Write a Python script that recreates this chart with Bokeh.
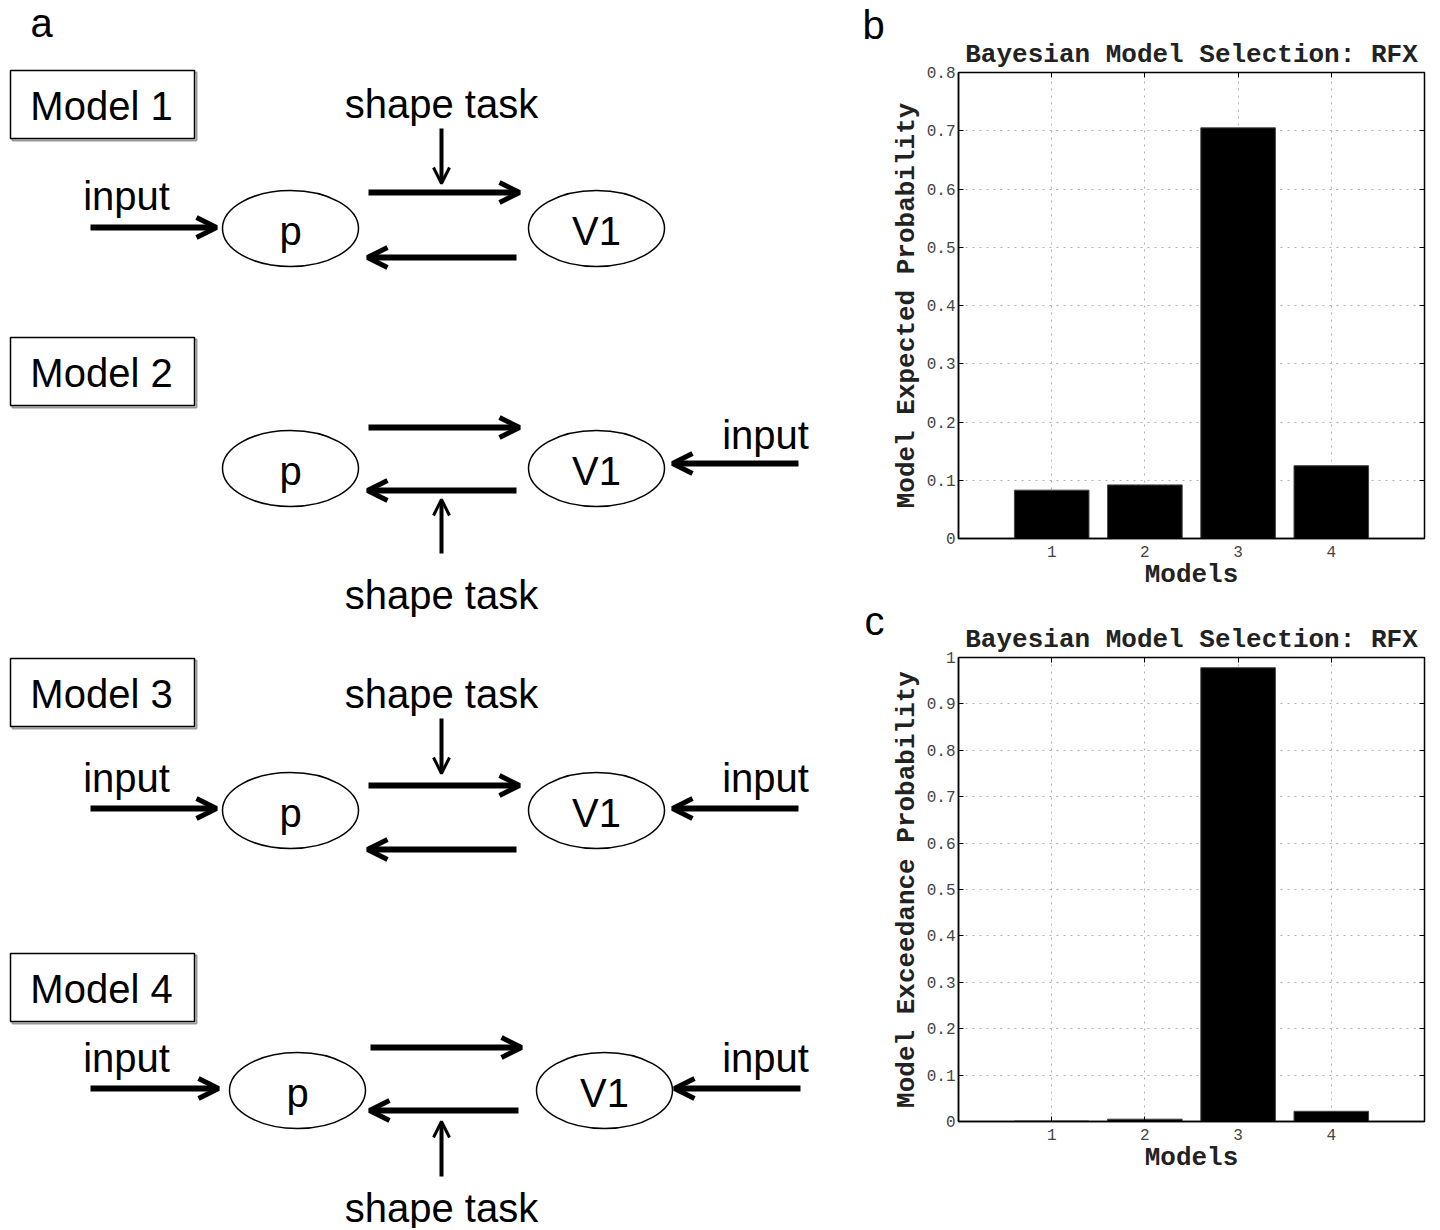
from bokeh.plotting import figure
from bokeh.models import Range1d, Arrow, OpenHead, LinearAxis, FixedTicker, Title, ColumnDataSource
from bokeh.layouts import row, column
from bokeh.core.properties import value
from bokeh.embed import file_html
from bokeh.resources import INLINE

# ---------------- data ----------------
models = [1, 2, 3, 4]
model_tick_labels = ["1", "2", "3", "4"]
expected_prob = [0.083, 0.092, 0.705, 0.125]
exceedance_prob = [0.001, 0.005, 0.978, 0.022]

b_yticks = [0, 0.1, 0.2, 0.3, 0.4, 0.5, 0.6, 0.7, 0.8]
b_ytick_labels = ["0", "0.1", "0.2", "0.3", "0.4", "0.5", "0.6", "0.7", "0.8"]
c_yticks = [0, 0.1, 0.2, 0.3, 0.4, 0.5, 0.6, 0.7, 0.8, 0.9, 1]
c_ytick_labels = ["0", "0.1", "0.2", "0.3", "0.4", "0.5", "0.6", "0.7", "0.8", "0.9", "1"]

model_names = ["Model 1", "Model 2", "Model 3", "Model 4"]
node_names = ["p", "V1"]
input_label = "input"
task_label = "shape task"
panel_letters = ["a", "b", "c"]

bar_title = "Bayesian Model Selection: RFX"
b_ylabel = "Model Expected Probability"
c_ylabel = "Model Exceedance Probability"
xlabel = "Models"

# ---------------- diagram (panel a) ----------------
D_W, D_H = 886, 1228
SANS = value("Liberation Sans")
MONO = "Liberation Mono"

d = figure(width=D_W, height=D_H, x_range=Range1d(0, D_W), y_range=Range1d(D_H, 0),
           output_backend="svg", toolbar_location=None, min_border=0,
           x_axis_location=None, y_axis_location=None)
d.grid.visible = False
d.outline_line_color = None

# layout of each model row (positions only)
rows_cfg = [
    dict(box_y=104, ell_y=228, px=290, vx=596, top_y=192, bot_y=257,
         task=(103, 128, 183), in_left=(195, 227), in_right=None, shift=0),
    dict(box_y=371, ell_y=468, px=290, vx=596, top_y=427, bot_y=490,
         task=(594, 553, 499), in_left=None, in_right=(434, 463), shift=0),
    dict(box_y=692, ell_y=810, px=290, vx=596, top_y=785, bot_y=849,
         task=(693, 718, 773), in_left=(777, 808), in_right=(777, 808), shift=0),
    dict(box_y=987, ell_y=1090, px=297, vx=604, top_y=1047, bot_y=1110,
         task=(1207, 1176, 1121), in_left=(1057, 1088), in_right=(1057, 1088), shift=2),
]

def arrow(x0, y0, x1, y1, lw=6, size=20):
    d.add_layout(Arrow(end=OpenHead(size=size, line_width=lw - 1, line_color="black"),
                       x_start=x0, y_start=y0, x_end=x1, y_end=y1,
                       line_width=lw, line_color="black"))

texts_x, texts_y, texts = [], [], []
for name, cfg in zip(model_names, rows_cfg):
    # model box with soft shadow
    d.rect(x=104, y=cfg["box_y"] + 2, width=184, height=68, fill_color=None,
           line_color="#9a9a9a", line_width=2)
    d.rect(x=102, y=cfg["box_y"], width=184, height=68, fill_color="white",
           line_color="black", line_width=1.5)
    texts_x.append(101); texts_y.append(cfg["box_y"] + 1); texts.append(name)
    # nodes
    d.ellipse(x=[cfg["px"], cfg["vx"]], y=[cfg["ell_y"]] * 2, width=136, height=76,
              fill_color="white", line_color="black", line_width=1.5)
    texts_x += [cfg["px"], cfg["vx"]]; texts_y += [cfg["ell_y"] + 2] * 2; texts += node_names
    s = cfg["shift"]
    # forward / backward connections
    arrow(368 + s, cfg["top_y"], 519 + s, cfg["top_y"])
    arrow(516 + s, cfg["bot_y"], 367 + s, cfg["bot_y"])
    # shape task modulation
    ty, a0, a1 = cfg["task"]
    arrow(441, a0, 441, a1, lw=4, size=16)
    texts_x.append(441); texts_y.append(ty); texts.append(task_label)
    # inputs
    if cfg["in_left"]:
        ty, ay = cfg["in_left"]
        texts_x.append(126); texts_y.append(ty); texts.append(input_label)
        arrow(90, ay, 216 + s, ay)
    if cfg["in_right"]:
        ty, ay = cfg["in_right"]
        texts_x.append(765); texts_y.append(ty); texts.append(input_label)
        arrow(798 + s, ay, 672 + s, ay)

d.text(x=texts_x, y=texts_y, text=texts, text_font=SANS, text_font_size="40px",
       text_align="center", text_baseline="middle", text_color="black")
# panel letters (b and c sit just left of the bar panels)
d.text(x=[41, 873, 874], y=[22, 24, 620], text=panel_letters, text_font=SANS,
       text_font_size="40px", text_align="center", text_baseline="middle", text_color="black")


# ---------------- bar panels (b, c) ----------------
def bar_panel(vals, ylabel, yticks, ytick_labels, ymax, width, height,
              b_left, b_right, b_top, b_bottom):
    p = figure(width=width, height=height, x_range=Range1d(0, 5), y_range=Range1d(0, ymax),
               output_backend="svg", toolbar_location=None,
               min_border_left=b_left, min_border_right=b_right,
               min_border_top=b_top, min_border_bottom=b_bottom)
    src = ColumnDataSource(dict(x=models, top=vals))
    p.vbar(x="x", top="top", width=0.8, source=src, fill_color="black", line_color="#444444",
           line_width=1)
    p.outline_line_color = "black"
    p.outline_line_width = 1.5

    p.xaxis.ticker = FixedTicker(ticks=models)
    p.xaxis.major_label_overrides = {m: l for m, l in zip(models, model_tick_labels)}
    p.yaxis.ticker = FixedTicker(ticks=yticks)
    p.yaxis.major_label_overrides = {t: l for t, l in zip(yticks, ytick_labels)}
    p.xaxis.axis_label = xlabel
    p.yaxis.axis_label = ylabel
    for ax in (p.xaxis, p.yaxis):
        ax.axis_label_text_font = MONO
        ax.axis_label_text_font_size = "26px"
        ax.axis_label_text_font_style = "bold"
        ax.axis_label_text_color = "#222222"
        ax.major_label_text_font = MONO
        ax.major_label_text_font_size = "16px"
        ax.major_label_text_color = "#444444"
        ax.major_tick_in = 5
        ax.major_tick_out = 0
        ax.minor_tick_line_color = None
        ax.axis_line_color = "black"
        ax.axis_line_width = 1.5
        ax.major_label_standoff = 3
        ax.axis_label_standoff = 2
    p.xaxis.major_label_standoff = 7
    p.xaxis.axis_label_standoff = 0

    for ax, loc, ticks in ((LinearAxis(), "right", yticks), (LinearAxis(), "above", models)):
        ax.ticker = FixedTicker(ticks=ticks)
        ax.major_label_overrides = {t: "" for t in ticks}
        ax.major_label_standoff = 0
        ax.major_tick_in = 5
        ax.major_tick_out = 0
        ax.minor_tick_line_color = None
        ax.axis_line_color = "black"
        p.add_layout(ax, loc)

    for g in (p.xgrid, p.ygrid):
        g.grid_line_color = "#b0b0b0"
        g.grid_line_dash = "2 5"
        g.grid_line_width = 1

    p.add_layout(Title(text=bar_title, align="center", text_font=MONO, text_font_size="26px",
                       text_font_style="bold", text_color="#222222", standoff=5), "above")
    return p

pb = bar_panel(expected_prob, b_ylabel, b_yticks, b_ytick_labels, 0.8,
               550, 600, 69, 12, 72, 62)
pc = bar_panel(exceedance_prob, c_ylabel, c_yticks, c_ytick_labels, 1.0,
               550, 628, 72, 10, 57, 107)

layout = row(d, column(pb, pc))
open("out.html", "w").write(file_html(layout, INLINE))
